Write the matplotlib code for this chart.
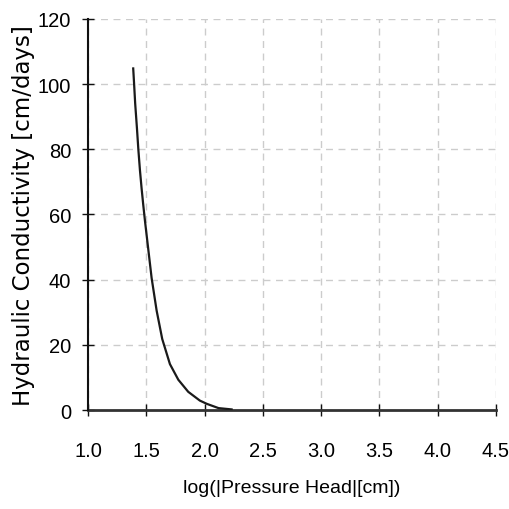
import matplotlib
matplotlib.use("Agg")
import matplotlib.pyplot as plt

# Curve
log_head = [1.388, 1.395, 1.405, 1.42, 1.432, 1.446, 1.46, 1.474, 1.489, 1.517,
            1.546, 1.589, 1.637, 1.703, 1.775, 1.86, 1.96, 2.02, 2.12, 2.232]
conductivity = [104.8, 100.5, 94.0, 86.5, 80.0, 73.5, 68.0, 63.0, 58.0, 49.4,
                40.5, 30.5, 21.8, 14.1, 9.3, 5.6, 2.9, 1.9, 0.6, 0.2]

x_ticks = [1.0, 1.5, 2.0, 2.5, 3.0, 3.5, 4.0, 4.5]
y_ticks = [0, 20, 40, 60, 80, 100, 120]

tick_font = "Liberation Sans"

fig = plt.figure(figsize=(5.1, 5.1), dpi=100)
ax = fig.add_axes([0.1725, 0.194, 0.8, 0.767])

ax.plot(log_head, conductivity, color="#1a1a1a", linewidth=1.6, zorder=3)

ax.set_xlim(1.0, 4.5)
ax.set_ylim(0, 120)
ax.set_xticks(x_ticks)
ax.set_yticks(y_ticks)
ax.set_xticklabels([f"{v:.1f}" for v in x_ticks], family=tick_font, fontsize=14.5)
ax.set_yticklabels([str(v) for v in y_ticks], family=tick_font, fontsize=14.5)

ax.grid(True, color="#cccccc", linestyle=(0, (5, 4)), linewidth=1.0)
ax.set_axisbelow(True)

for side in ["top", "right"]:
    ax.spines[side].set_visible(False)
ax.spines["left"].set_linewidth(1.5)
ax.spines["bottom"].set_linewidth(2.0)
ax.spines["bottom"].set_color("#333333")
ax.spines["left"].set_color("#111111")
ax.spines["left"].set_zorder(4)

ax.tick_params(direction="inout", length=8, width=1.0, color="#111111")
ax.tick_params(axis="x", pad=18)
ax.tick_params(axis="y", pad=8)

ax.set_xlabel("log(|Pressure Head|[cm])", family=tick_font, fontsize=14, labelpad=14)
ax.set_ylabel("Hydraulic Conductivity [cm/days]", fontsize=16.5, labelpad=8)
ax.yaxis.set_label_coords(-0.13, 0.5)

fig.savefig("out.png", dpi=100)
